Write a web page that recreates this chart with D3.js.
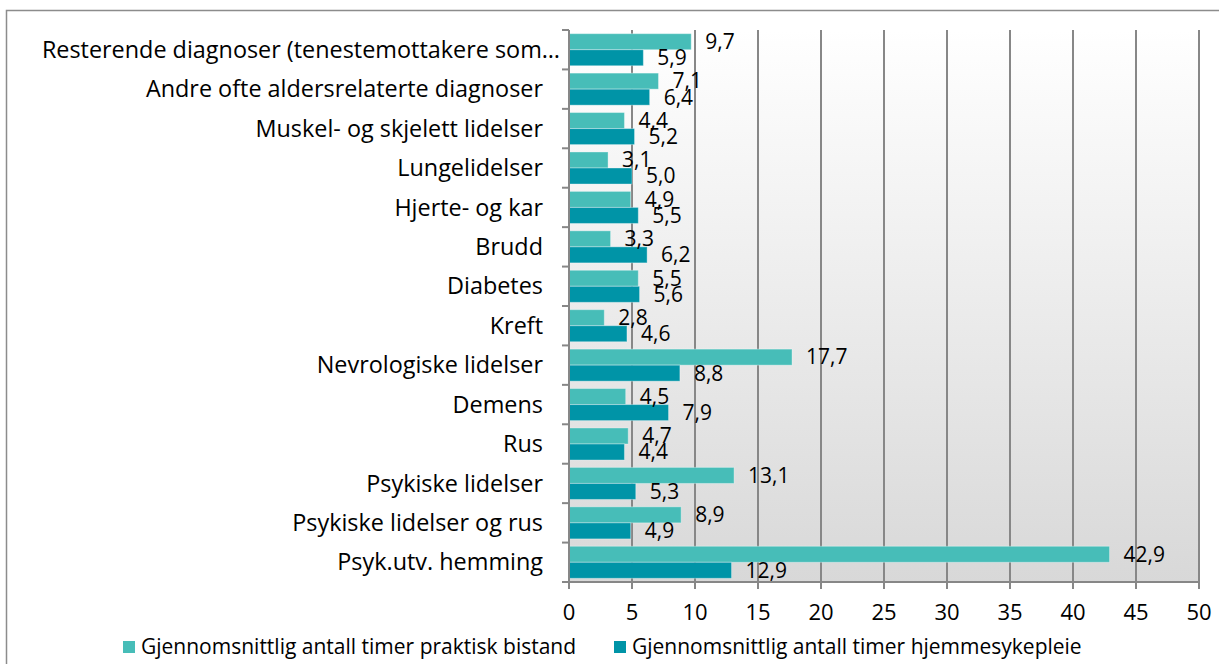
<!DOCTYPE html>
<html lang="no">
<head>
<meta charset="utf-8">
<script src="https://d3js.org/d3.v7.min.js"></script>
<style>
	body { margin: 0; background: #fff; }
	text { font-family: "Open Sans", sans-serif; fill: #000; }
</style>
</head>
<body>
<div id="chart"></div>
<script>
var categories = [
	"Resterende diagnoser (tenestemottakere som\u2026",
	"Andre ofte aldersrelaterte diagnoser",
	"Muskel- og skjelett lidelser",
	"Lungelidelser",
	"Hjerte- og kar",
	"Brudd",
	"Diabetes",
	"Kreft",
	"Nevrologiske lidelser",
	"Demens",
	"Rus",
	"Psykiske lidelser",
	"Psykiske lidelser og rus",
	"Psyk.utv. hemming"
];
var seriesNames = [
	"Gjennomsnittlig antall timer praktisk bistand",
	"Gjennomsnittlig antall timer hjemmesykepleie"
];
var praktisk = [9.7, 7.1, 4.4, 3.1, 4.9, 3.3, 5.5, 2.8, 17.7, 4.5, 4.7, 13.1, 8.9, 42.9];
var hjemme = [5.9, 6.4, 5.2, 5.0, 5.5, 6.2, 5.6, 4.6, 8.8, 7.9, 4.4, 5.3, 4.9, 12.9];
var xTicks = [0, 5, 10, 15, 20, 25, 30, 35, 40, 45, 50];
var colors = ["#47bdb8", "#0094a7"];

var w = 1219, h = 664;
var pLeft = 569, pRight = 1199, pTop = 30, pBottom = 582;

var svg = d3.select("#chart").append("svg")
	.attr("width", w).attr("height", h);

var defs = svg.append("defs");
var grad = defs.append("linearGradient").attr("id", "bg")
	.attr("x1", 0).attr("y1", 0).attr("x2", 0).attr("y2", 1);
grad.append("stop").attr("offset", "0%").attr("stop-color", "#ffffff");
grad.append("stop").attr("offset", "100%").attr("stop-color", "#d8d8d8");

// chart border
svg.append("rect").attr("x", 6.5).attr("y", 10.5)
	.attr("width", w).attr("height", h)
	.attr("fill", "none").attr("stroke", "#8c8c8c").attr("stroke-width", 1.5);

// plot background
svg.append("rect").attr("x", pLeft).attr("y", pTop)
	.attr("width", pRight - pLeft).attr("height", pBottom - pTop)
	.attr("fill", "url(#bg)");

var x = d3.scaleLinear().domain([0, 50]).range([pLeft, pRight]);
var y = d3.scaleBand().domain(categories).range([pTop, pBottom]);
var y1 = d3.scaleBand().domain([0, 1]).range([0, y.bandwidth()]).paddingOuter(0.23);

// gridlines
svg.selectAll(".grid").data(xTicks.slice(1)).enter().append("line")
	.attr("x1", function(d) { return x(d); }).attr("x2", function(d) { return x(d); })
	.attr("y1", pTop).attr("y2", pBottom)
	.attr("stroke", "#878787").attr("stroke-width", 2);

var rows = categories.map(function(c, i) { return [praktisk[i], hjemme[i]]; });

var groups = svg.selectAll(".grp").data(rows).enter().append("g")
	.attr("transform", function(d, i) { return "translate(0," + y(categories[i]) + ")"; });

groups.selectAll("rect").data(function(d) { return d; }).enter().append("rect")
	.attr("x", x(0))
	.attr("y", function(d, j) { return y1(j); })
	.attr("width", function(d) { return x(d) - x(0); })
	.attr("height", y1.bandwidth())
	.attr("fill", function(d, j) { return colors[j]; })
	.attr("stroke", "rgba(255,255,255,0.35)").attr("stroke-width", 1);

groups.selectAll(".lbl").data(function(d) { return d; }).enter().append("text")
	.attr("x", function(d) { return x(d) + 14; })
	.attr("y", function(d, j) { return y1(j) + y1.bandwidth() / 2; })
	.attr("dy", "0.35em")
	.attr("font-size", "21px")
	.text(function(d) { return d.toFixed(1).replace(".", ","); });

// left axis
var yAxis = svg.append("g");
yAxis.append("line").attr("x1", pLeft).attr("x2", pLeft).attr("y1", pTop).attr("y2", pBottom + 7)
	.attr("stroke", "#878787").attr("stroke-width", 2);
yAxis.selectAll(".tk").data(categories.concat(["end"])).enter().append("line")
	.attr("x1", pLeft - 7).attr("x2", pLeft)
	.attr("y1", function(d, i) { return pTop + i * y.step(); })
	.attr("y2", function(d, i) { return pTop + i * y.step(); })
	.attr("stroke", "#878787").attr("stroke-width", 2);
yAxis.selectAll(".cat").data(categories).enter().append("text")
	.attr("x", function(d, i) { return i === 0 ? pLeft - 9 : pLeft - 26; })
	.attr("y", function(d) { return y(d) + y.bandwidth() / 2; })
	.attr("dy", "0.35em")
	.attr("text-anchor", "end")
	.attr("font-size", "23.4px")
	.text(function(d) { return d; });

// bottom axis
var xAxis = svg.append("g");
xAxis.append("line").attr("x1", pLeft - 7).attr("x2", pRight).attr("y1", pBottom).attr("y2", pBottom)
	.attr("stroke", "#878787").attr("stroke-width", 2);
xAxis.selectAll(".tk").data(xTicks).enter().append("line")
	.attr("x1", function(d) { return x(d); }).attr("x2", function(d) { return x(d); })
	.attr("y1", pBottom).attr("y2", pBottom + 7)
	.attr("stroke", "#878787").attr("stroke-width", 2);
xAxis.selectAll(".tl").data(xTicks).enter().append("text")
	.attr("x", function(d) { return x(d); })
	.attr("y", 612).attr("dy", "0.35em")
	.attr("text-anchor", "middle")
	.attr("font-size", "22px")
	.text(function(d) { return d; });

// legend
var legX = [123, 614];
var leg = svg.selectAll(".leg").data(seriesNames).enter().append("g")
	.attr("transform", function(d, i) { return "translate(" + legX[i] + ",647)"; });
leg.append("rect").attr("x", 0).attr("y", -6).attr("width", 12).attr("height", 12)
	.attr("fill", function(d, i) { return colors[i]; });
leg.append("text").attr("x", 18).attr("dy", "0.35em")
	.attr("font-size", "21px")
	.text(function(d) { return d; });
</script>
</body>
</html>
